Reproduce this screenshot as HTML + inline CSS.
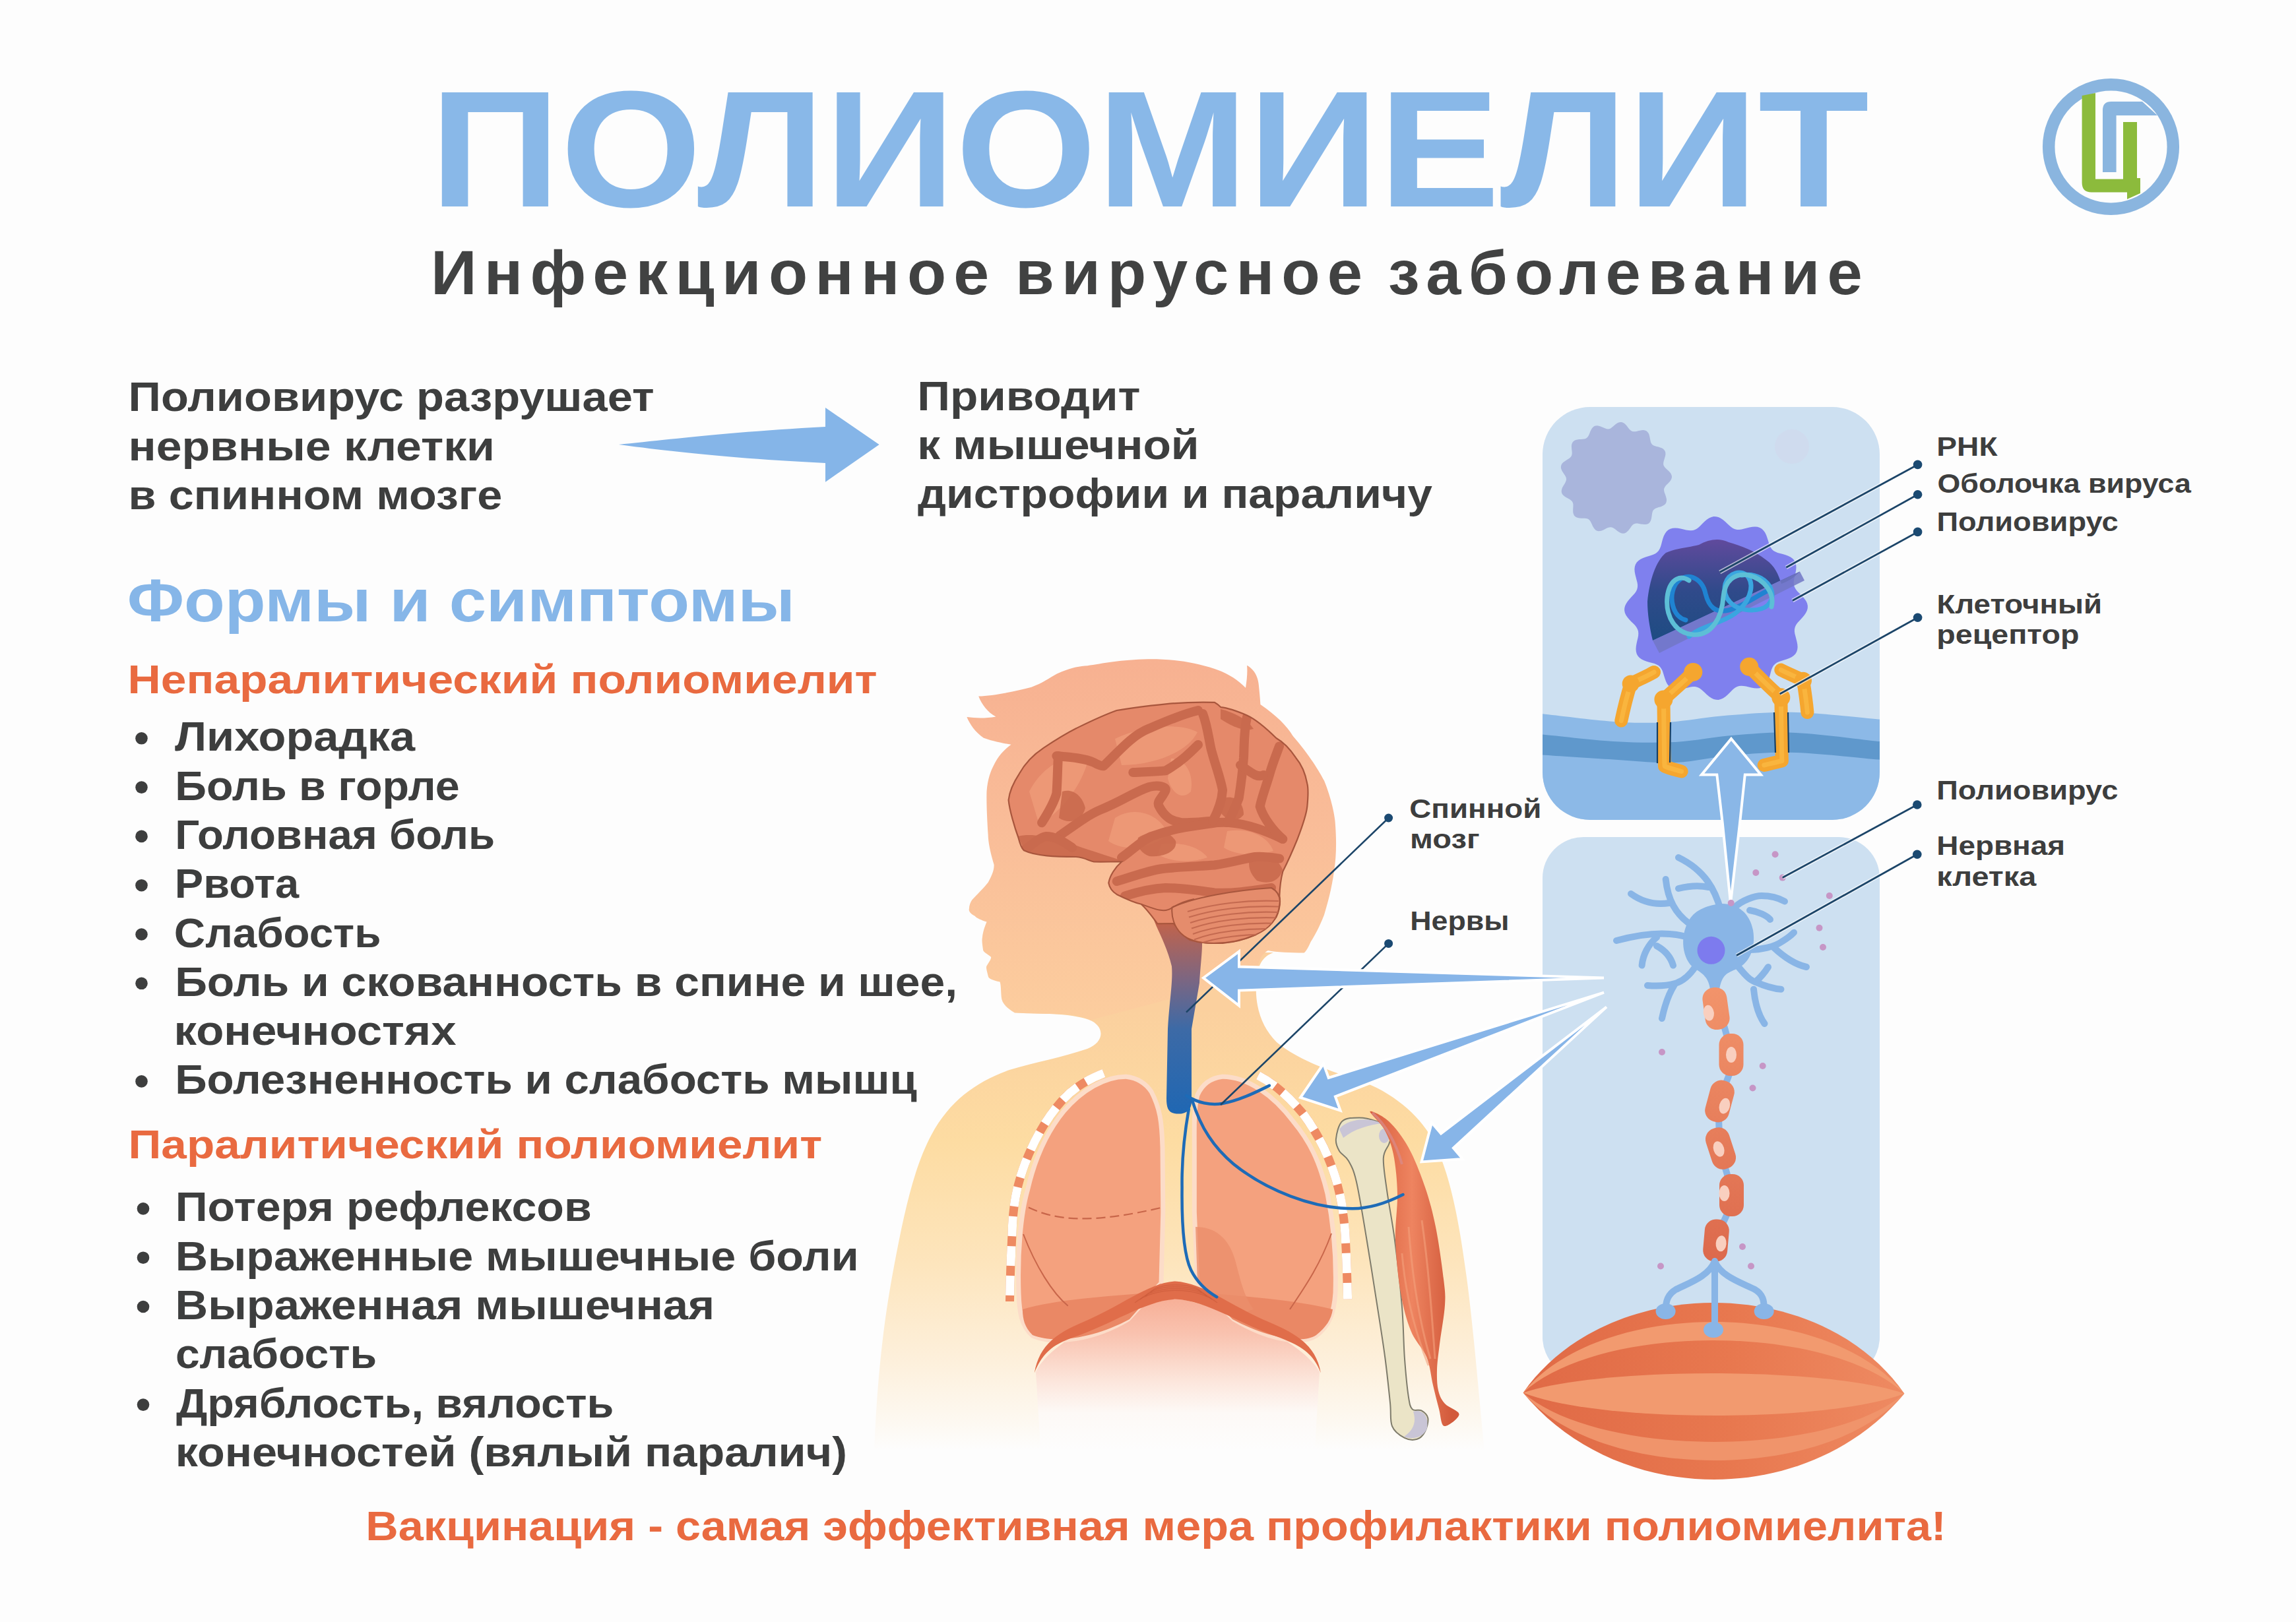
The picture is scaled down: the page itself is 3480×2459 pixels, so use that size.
<!DOCTYPE html>
<html><head><meta charset="utf-8"><title>Полиомиелит</title>
<style>html,body{margin:0;padding:0;background:#fdfdfd;width:3480px;height:2459px;overflow:hidden}
svg{display:block} text{font-family:"Liberation Sans",sans-serif;font-weight:bold}</style></head>
<body><svg width="3480" height="2459" viewBox="0 0 3480 2459">
<rect width="3480" height="2459" fill="#fdfdfd"/>
<defs>
<linearGradient id="gHead" x1="0" y1="1000" x2="0" y2="1540" gradientUnits="userSpaceOnUse">
 <stop offset="0" stop-color="#f7b191"/><stop offset="0.45" stop-color="#f9bc98"/><stop offset="1" stop-color="#fccd9e"/>
</linearGradient>
<linearGradient id="gBody" x1="0" y1="1530" x2="0" y2="2200" gradientUnits="userSpaceOnUse">
 <stop offset="0" stop-color="#fbd09e"/><stop offset="0.3" stop-color="#fddca2"/><stop offset="0.58" stop-color="#fde5bd"/><stop offset="0.8" stop-color="#fdf0dc"/><stop offset="0.94" stop-color="#fdf9f2"/><stop offset="1" stop-color="#fdfdfd"/>
</linearGradient>
<linearGradient id="gCord" x1="0" y1="1400" x2="0" y2="1690" gradientUnits="userSpaceOnUse">
 <stop offset="0" stop-color="#c0634c"/><stop offset="0.3" stop-color="#7a6683"/><stop offset="0.55" stop-color="#3d6aa6"/><stop offset="1" stop-color="#1f67b3"/>
</linearGradient>
<linearGradient id="gBelly" x1="0" y1="1965" x2="0" y2="2200" gradientUnits="userSpaceOnUse">
 <stop offset="0" stop-color="#f7ae95"/><stop offset="0.25" stop-color="#f9c3b0"/><stop offset="0.55" stop-color="#fce6dc"/><stop offset="0.75" stop-color="#fdf9f6"/><stop offset="1" stop-color="#fdfdfd"/>
</linearGradient>
<radialGradient id="gLung" cx="0.55" cy="0.45" r="0.6">
 <stop offset="0" stop-color="#f7ab88"/><stop offset="1" stop-color="#f29b78"/>
</radialGradient>
<linearGradient id="gVirusIn" x1="0" y1="820" x2="0" y2="975" gradientUnits="userSpaceOnUse">
 <stop offset="0" stop-color="#5f4a9c"/><stop offset="0.5" stop-color="#2f4a8a"/><stop offset="1" stop-color="#1d4c82"/>
</linearGradient>
<linearGradient id="gMuscleBig" x1="2309" y1="0" x2="2886" y2="0" gradientUnits="userSpaceOnUse">
 <stop offset="0" stop-color="#e56f4b"/><stop offset="0.5" stop-color="#ef8a62"/><stop offset="1" stop-color="#ec8860"/>
</linearGradient>
<linearGradient id="gMuscleDark" x1="2309" y1="0" x2="2886" y2="0" gradientUnits="userSpaceOnUse">
 <stop offset="0" stop-color="#e06a46"/><stop offset="0.55" stop-color="#e8784f"/><stop offset="1" stop-color="#ee8a62"/>
</linearGradient>
<linearGradient id="gMyelin" x1="0" y1="1495" x2="0" y2="1915" gradientUnits="userSpaceOnUse">
 <stop offset="0" stop-color="#f2946b"/><stop offset="1" stop-color="#dc694c"/>
</linearGradient>
<linearGradient id="gArm" x1="2080" y1="0" x2="2200" y2="0" gradientUnits="userSpaceOnUse">
 <stop offset="0" stop-color="#d9603f"/><stop offset="0.5" stop-color="#ee8460"/><stop offset="1" stop-color="#d25a3b"/>
</linearGradient>
</defs>
<path d="M937.8,674 C1000,668 1100,655 1251,647 L1251,618 L1332.6,674 L1251,730.7 L1251,702 C1100,695 1000,682 937.8,674Z" fill="#85b5e8"/>
<g id="logo">
<circle cx="3199.5" cy="222.5" r="94.3" fill="none" stroke="#8ab5df" stroke-width="18.5"/>
<path d="M3155.6,145 L3176,141 L3176,271.6 L3218,271.6 L3218,185 L3239,185 L3239,270 L3244,270 L3244,293 L3224,302 L3224,291.5 L3170,291.5 Q3155.6,291.5 3155.6,277 Z" fill="#8cbb3c"/>
<path d="M3187,261 L3207.6,261 L3207.6,175 L3270,175 L3247,154 L3200,154 Q3187,154 3187,167 Z" fill="#8ab5df"/>
</g>
<path d="M1537.7,1535.3 C1580,1537 1630,1536 1655,1548 C1674,1558 1674,1580 1648,1590 C1610,1603 1570,1610 1530,1622 C1480,1640 1440,1668 1412,1720 C1385,1770 1370,1840 1355,1920 C1340,2000 1330,2080 1325,2200 L2250,2200 C2240,2100 2232,2000 2222,1930 C2210,1840 2195,1770 2170,1725 C2150,1690 2110,1655 2060,1638 C2010,1622 1965,1605 1935,1580 C1910,1555 1900,1520 1905,1480 C1908,1460 1915,1450 1930,1444 L1546.7,1444 Z" fill="url(#gBody)"/>
<path d="M1465.4,1087.1 C1480,1089 1495,1089 1509.4,1086.4 C1497,1080 1488,1068 1483.2,1055.5 C1505,1055 1540,1048 1563.3,1041.7 C1580,1036 1590,1028 1601.9,1021.6 C1620,1013 1635,1010 1648.1,1009.3 C1670,1006 1700,1000 1740,999.3 C1780,999 1810,1004 1841,1014 C1860,1020 1875,1030 1888,1042.7 C1890,1030 1891,1018 1890,1008.8 C1900,1014 1907,1025 1908,1040 C1909,1050 1910,1060 1910.4,1068 C1935,1085 1950,1100 1959.6,1115.7 C1985,1145 2000,1170 2007,1183.5 C2018,1210 2024,1240 2024,1251.3 C2026,1280 2025,1300 2022.3,1319 C2018,1350 2012,1370 2007,1387 C2000,1405 1993,1418 1986.7,1427.7 C1983,1436 1980,1442 1976.5,1444.6 C1955,1444 1935,1444 1922,1441 C1912,1446 1905,1460 1905,1480 L1653,1546.4 C1640,1540 1630,1538 1617.6,1537.5 C1590,1537 1560,1537 1537.7,1535.3 C1525,1528 1518,1520 1517.7,1510.8 C1517,1500 1517,1492 1515.5,1488.6 C1505,1486 1498,1484 1497.7,1479.7 C1496,1472 1494,1467 1495.5,1464.2 C1498,1460 1502,1455 1502.2,1450.9 C1496,1446 1490,1443 1490,1439.8 C1489,1432 1488,1426 1488.8,1422 C1490,1410 1494,1402 1495.5,1397.6 C1488,1395 1480,1392 1477.7,1388.7 C1470,1385 1468,1381 1468.9,1377.6 C1469,1372 1471,1368 1473.3,1364.3 C1482,1355 1492,1345 1497.7,1337.7 C1502,1330 1507,1320 1506.6,1311 C1502,1295 1498,1280 1497.7,1266.6 C1496,1240 1495,1215 1495.5,1200 C1497,1180 1502,1168 1506.3,1160 C1512,1148 1520,1138 1532.5,1128.8 C1515,1126 1500,1122 1490.9,1118.7 C1478,1110 1470,1098 1465.4,1087.1 Z" fill="url(#gHead)"/>
<path d="M1570,2080 C1590,2035 1690,1985 1781,1968 C1870,1985 1975,2035 2000,2080 L1992,2210 L1578,2210 Z" fill="url(#gBelly)"/>
<path d="M1706.9,1632.2 C1722,1634 1735,1640 1745,1655 C1758,1680 1761,1700 1762,1740 L1762.8,1837.4 L1760,1945 L1710,2000 C1660,2030 1600,2040 1565,2025 C1548,2010 1545,1990 1544,1960 C1542,1900 1547,1840 1557.6,1803.5 C1570,1750 1590,1712 1612,1685 C1640,1652 1675,1632 1706.9,1632.2 Z" fill="#f4a17e" stroke="#fcdcc8" stroke-width="7"/>
<path d="M1852.7,1632.2 C1837,1634 1823,1642 1815,1660 C1810,1680 1810,1700 1810.3,1740 L1810.3,1837.4 L1815,1945 L1870,2000 C1920,2030 1970,2040 1995,2025 C2015,2010 2022,1990 2024,1960 C2026,1900 2020,1850 2012,1810 C2000,1760 1985,1730 1960,1700 C1930,1660 1890,1632 1852.7,1632.2 Z" fill="#f4a17e" stroke="#fcdcc8" stroke-width="7"/>
<path d="M1550,1985 C1600,1970 1680,1965 1740,1960 L1760,1945 L1712,2000 C1660,2028 1600,2038 1565,2024 C1553,2012 1550,2000 1550,1985Z" fill="#ea8865"/>
<path d="M2020,1985 C1960,1970 1880,1965 1830,1960 L1815,1945 L1868,2000 C1920,2028 1975,2038 1995,2024 C2010,2012 2018,2000 2020,1985Z" fill="#ea8865"/>
<path d="M1812,1860 C1840,1860 1862,1875 1872,1910 C1880,1940 1885,1965 1900,1985 L1870,1995 L1815,1945 Z" fill="#eb8f6b" opacity="0.8"/>
<path d="M1559,1830.6 C1600,1850 1652,1856 1761,1830.6" fill="none" stroke="#c8664a" stroke-width="2.2" stroke-dasharray="14 7"/>
<path d="M1551,1871 C1570,1920 1595,1960 1618.7,1979.8" fill="none" stroke="#c8664a" stroke-width="2"/>
<path d="M2018,1870 C2000,1920 1975,1955 1955,1985" fill="none" stroke="#c8664a" stroke-width="2"/>
<path d="M1673,1627 C1640,1640 1620,1655 1601.7,1678 C1580,1705 1565,1735 1554,1762.8 C1540,1800 1535,1830 1534,1871.3 C1532,1910 1531,1940 1530.5,1973" fill="none" stroke="#ee8a62" stroke-width="13"/>
<path d="M1673,1627 C1640,1640 1620,1655 1601.7,1678 C1580,1705 1565,1735 1554,1762.8 C1540,1800 1535,1830 1534,1871.3 C1532,1910 1531,1940 1530.5,1973" fill="none" stroke="#ffffff" stroke-width="13" stroke-dasharray="30 15"/>
<path d="M1907,1630.5 C1935,1645 1955,1665 1974.7,1688 C1995,1715 2010,1745 2018.8,1769.5 C2030,1800 2036,1830 2039,1871.3 C2041,1910 2042,1940 2042.6,1969.6" fill="none" stroke="#ee8a62" stroke-width="13"/>
<path d="M1907,1630.5 C1935,1645 1955,1665 1974.7,1688 C1995,1715 2010,1745 2018.8,1769.5 C2030,1800 2036,1830 2039,1871.3 C2041,1910 2042,1940 2042.6,1969.6" fill="none" stroke="#ffffff" stroke-width="13" stroke-dasharray="30 15"/>
<path d="M1567.8,2081.5 C1575,2040 1600,2022 1640,2005 C1700,1980 1740,1945 1781.5,1942.5 C1825,1945 1865,1980 1925,2005 C1965,2022 1995,2040 2001.9,2081.5 C1990,2050 1970,2040 1940,2028 C1880,2008 1830,1972 1781.5,1969.6 C1735,1972 1685,2008 1625,2028 C1598,2038 1580,2050 1567.8,2081.5 Z" fill="#e06d4a"/>
<path d="M1720,1975 C1750,1950 1815,1950 1845,1975" fill="none" stroke="#c85838" stroke-width="1.5" opacity="0.5"/>
<path d="M1728,1970 C1750,1948 1815,1948 1837,1970" fill="none" stroke="#c85838" stroke-width="1.5" opacity="0.5"/>
<path d="M1736,1965 C1750,1946 1815,1946 1829,1965" fill="none" stroke="#c85838" stroke-width="1.5" opacity="0.5"/>
<path d="M1744,1960 C1750,1944 1815,1944 1821,1960" fill="none" stroke="#c85838" stroke-width="1.5" opacity="0.5"/>
<path d="M1745,1385 L1822,1405 L1822,1431 C1822,1445 1820,1460 1818,1490 L1806,1560 L1806,1670 C1806,1688 1790,1690 1780,1688 C1770,1686 1768,1678 1768,1665 L1770,1560 C1772,1520 1778,1490 1776,1465 C1770,1440 1760,1420 1752.7,1404 Z" fill="url(#gCord)"/>
<clipPath id="cpBrain"><path d="M1528.6,1212.8 C1530,1228 1538,1255 1543.4,1269.5 C1546,1280 1548,1286 1552,1289.3 C1570,1298 1600,1299 1631,1299 C1645,1300 1650,1305 1658,1306.5 C1675,1307 1690,1306 1700,1306.5 C1690,1315 1682,1328 1680.3,1338.6 C1682,1348 1688,1353 1692.7,1355.9 C1705,1362 1718,1368 1729.7,1370.7 C1740,1380 1748,1392 1754.3,1400.3 L1779,1400 C1788,1412 1795,1420 1803.7,1425 C1820,1430 1835,1430 1853,1429.9 C1875,1428 1890,1423 1902.3,1417.5 C1918,1408 1928,1400 1934.4,1390.4 C1940,1378 1941,1368 1939.3,1358.3 C1940,1340 1942,1330 1944.3,1321.3 C1955,1300 1960,1288 1966.5,1272 C1975,1250 1980,1235 1981.3,1222.7 C1983,1205 1983,1195 1981.3,1188 C1978,1170 1972,1158 1964,1148.7 C1955,1135 1945,1125 1934.4,1119 C1915,1100 1902,1090 1890,1084.5 C1870,1076 1858,1073 1850.5,1072.2 C1846,1068 1843,1066 1840.7,1064.8 C1810,1064 1790,1065 1766.7,1067.3 C1740,1070 1715,1073 1692.7,1077 C1670,1085 1650,1095 1631,1104.3 C1610,1115 1595,1125 1581.7,1133.9 C1565,1145 1552,1160 1544.7,1173.3 C1535,1188 1530,1200 1528.6,1212.8 Z"/></clipPath>
<path d="M1528.6,1212.8 C1530,1228 1538,1255 1543.4,1269.5 C1546,1280 1548,1286 1552,1289.3 C1570,1298 1600,1299 1631,1299 C1645,1300 1650,1305 1658,1306.5 C1675,1307 1690,1306 1700,1306.5 C1690,1315 1682,1328 1680.3,1338.6 C1682,1348 1688,1353 1692.7,1355.9 C1705,1362 1718,1368 1729.7,1370.7 C1740,1380 1748,1392 1754.3,1400.3 L1779,1400 C1788,1412 1795,1420 1803.7,1425 C1820,1430 1835,1430 1853,1429.9 C1875,1428 1890,1423 1902.3,1417.5 C1918,1408 1928,1400 1934.4,1390.4 C1940,1378 1941,1368 1939.3,1358.3 C1940,1340 1942,1330 1944.3,1321.3 C1955,1300 1960,1288 1966.5,1272 C1975,1250 1980,1235 1981.3,1222.7 C1983,1205 1983,1195 1981.3,1188 C1978,1170 1972,1158 1964,1148.7 C1955,1135 1945,1125 1934.4,1119 C1915,1100 1902,1090 1890,1084.5 C1870,1076 1858,1073 1850.5,1072.2 C1846,1068 1843,1066 1840.7,1064.8 C1810,1064 1790,1065 1766.7,1067.3 C1740,1070 1715,1073 1692.7,1077 C1670,1085 1650,1095 1631,1104.3 C1610,1115 1595,1125 1581.7,1133.9 C1565,1145 1552,1160 1544.7,1173.3 C1535,1188 1530,1200 1528.6,1212.8 Z" fill="#e5896a"/>
<g clip-path="url(#cpBrain)">
<path d="M1560,1200 C1580,1160 1620,1140 1650,1150 C1640,1190 1610,1230 1575,1250 Z" fill="#ef9e7b" opacity="0.75"/>
<path d="M1690,1120 C1730,1100 1790,1095 1815,1110 C1800,1140 1750,1160 1700,1160 Z" fill="#ef9e7b" opacity="0.75"/>
<path d="M1690,1240 C1720,1220 1760,1235 1770,1265 C1740,1290 1700,1290 1680,1275 Z" fill="#ef9e7b" opacity="0.75"/>
<path d="M1775,1150 C1795,1150 1810,1170 1805,1200 C1790,1215 1775,1200 1770,1180 Z" fill="#ef9e7b" opacity="0.75"/>
<path d="M1860,1260 C1890,1255 1920,1265 1930,1290 C1900,1300 1870,1295 1855,1285 Z" fill="#ef9e7b" opacity="0.75"/>
<path d="M1760,1280 C1790,1275 1820,1285 1830,1300 C1800,1310 1770,1305 1755,1295 Z" fill="#ef9e7b" opacity="0.75"/>
<path d="M1543,1268 C1565,1262 1600,1270 1640,1285 C1665,1293 1685,1300 1705,1306 L1640,1312 L1560,1305 Z" fill="#c96a4e" opacity="0.9"/>
<path d="M1725,1270 C1745,1258 1770,1256 1782,1275 C1785,1290 1765,1300 1742,1298 C1728,1292 1722,1282 1725,1270 Z" fill="#c96a4e" opacity="0.9"/>
<path d="M1895,1300 C1915,1292 1935,1298 1944,1318 C1940,1335 1925,1342 1905,1335 C1895,1325 1890,1312 1895,1300 Z" fill="#c96a4e" opacity="0.9"/>
<path d="M1850,1075 C1870,1080 1890,1090 1900,1105 C1885,1110 1865,1100 1850,1090 Z" fill="#c96a4e" opacity="0.9"/>
<path d="M1610,1200 C1625,1195 1640,1205 1645,1225 C1640,1245 1620,1250 1605,1240 Z" fill="#c96a4e" opacity="0.9"/>
<path d="M1855,1210 C1870,1205 1885,1215 1885,1235 C1875,1248 1860,1245 1850,1232 Z" fill="#c96a4e" opacity="0.9"/>
<path d="M1606,1267 C1630,1250 1650,1235 1668,1227.6 C1700,1215 1720,1200 1742,1193 C1755,1190 1768,1192 1766.7,1198 C1762,1210 1752,1215 1757,1222.7 C1765,1238 1775,1245 1790,1247 C1805,1248 1820,1246 1833,1245" fill="none" stroke="#c96a4e" stroke-width="14" stroke-linecap="round" stroke-linejoin="round"/>
<path d="M1700,1300 C1715,1290 1729,1275 1745,1268 C1780,1255 1810,1252 1845,1247 C1870,1245 1900,1250 1944,1272" fill="none" stroke="#c96a4e" stroke-width="14" stroke-linecap="round" stroke-linejoin="round"/>
<path d="M1823,1082 C1830,1100 1832,1120 1835.7,1136 C1842,1160 1850,1180 1853,1198 C1852,1215 1845,1232 1838,1245" fill="none" stroke="#c96a4e" stroke-width="14" stroke-linecap="round" stroke-linejoin="round"/>
<path d="M1890,1087 C1885,1110 1886,1130 1885,1148.7 C1883,1175 1880,1195 1877.7,1210 C1872,1225 1866,1238 1860.4,1247" fill="none" stroke="#c96a4e" stroke-width="14" stroke-linecap="round" stroke-linejoin="round"/>
<path d="M1939,1131.4 C1932,1150 1928,1160 1924.5,1173 C1918,1195 1912,1210 1909.7,1222.7 C1915,1240 1930,1260 1944.3,1272" fill="none" stroke="#c96a4e" stroke-width="14" stroke-linecap="round" stroke-linejoin="round"/>
<path d="M1601.4,1146 C1625,1148 1645,1150 1658,1156 C1665,1160 1670,1162 1673,1161 C1695,1140 1715,1115 1742,1104.3 C1770,1092 1795,1082 1816,1077" fill="none" stroke="#c96a4e" stroke-width="14" stroke-linecap="round" stroke-linejoin="round"/>
<path d="M1579,1247.3 C1590,1230 1598,1215 1601.4,1203 C1603,1180 1603,1160 1604,1146" fill="none" stroke="#c96a4e" stroke-width="14" stroke-linecap="round" stroke-linejoin="round"/>
<path d="M1717.3,1171 C1735,1170 1750,1170 1766.7,1168.4 C1790,1155 1805,1140 1816,1129" fill="none" stroke="#c96a4e" stroke-width="14" stroke-linecap="round" stroke-linejoin="round"/>
<path d="M1692.7,1336 C1720,1328 1745,1318 1766.7,1316.4 C1795,1314 1820,1313 1840.7,1311.5 C1865,1308 1885,1302 1902.3,1299 C1915,1298 1928,1300 1939.3,1301.6" fill="none" stroke="#c96a4e" stroke-width="14" stroke-linecap="round" stroke-linejoin="round"/>
<path d="M1705,1358.4 C1725,1352 1745,1347 1766.7,1346 C1795,1346 1815,1350 1840.7,1353.4 C1870,1355 1900,1350 1927,1346" fill="none" stroke="#c96a4e" stroke-width="14" stroke-linecap="round" stroke-linejoin="round"/>
<path d="M1552,1289.3 C1565,1280 1575,1270 1585,1268 C1600,1268 1610,1275 1625,1285" fill="none" stroke="#c96a4e" stroke-width="14" stroke-linecap="round" stroke-linejoin="round"/>
<path d="M1880,1160 C1895,1170 1905,1180 1915,1175" fill="none" stroke="#c96a4e" stroke-width="14" stroke-linecap="round" stroke-linejoin="round"/>
</g>
<path d="M1528.6,1212.8 C1530,1228 1538,1255 1543.4,1269.5 C1546,1280 1548,1286 1552,1289.3 C1570,1298 1600,1299 1631,1299 C1645,1300 1650,1305 1658,1306.5 C1675,1307 1690,1306 1700,1306.5 C1690,1315 1682,1328 1680.3,1338.6 C1682,1348 1688,1353 1692.7,1355.9 C1705,1362 1718,1368 1729.7,1370.7 C1740,1380 1748,1392 1754.3,1400.3 L1779,1400 C1788,1412 1795,1420 1803.7,1425 C1820,1430 1835,1430 1853,1429.9 C1875,1428 1890,1423 1902.3,1417.5 C1918,1408 1928,1400 1934.4,1390.4 C1940,1378 1941,1368 1939.3,1358.3 C1940,1340 1942,1330 1944.3,1321.3 C1955,1300 1960,1288 1966.5,1272 C1975,1250 1980,1235 1981.3,1222.7 C1983,1205 1983,1195 1981.3,1188 C1978,1170 1972,1158 1964,1148.7 C1955,1135 1945,1125 1934.4,1119 C1915,1100 1902,1090 1890,1084.5 C1870,1076 1858,1073 1850.5,1072.2 C1846,1068 1843,1066 1840.7,1064.8 C1810,1064 1790,1065 1766.7,1067.3 C1740,1070 1715,1073 1692.7,1077 C1670,1085 1650,1095 1631,1104.3 C1610,1115 1595,1125 1581.7,1133.9 C1565,1145 1552,1160 1544.7,1173.3 C1535,1188 1530,1200 1528.6,1212.8 Z" fill="none" stroke="#a8563d" stroke-width="2.2"/>
<path d="M1776.5,1375.6 C1810,1360 1870,1350 1927,1346 C1938,1352 1941,1362 1939.3,1372 C1937,1392 1925,1408 1902.3,1417.5 C1880,1427 1860,1430 1840,1430 C1815,1430 1800,1425 1790,1415 C1780,1405 1775,1390 1776.5,1375.6 Z" fill="#e58c6c" stroke="#a8563d" stroke-width="2"/>
<clipPath id="cpCer"><path d="M1776.5,1375.6 C1810,1360 1870,1350 1927,1346 C1938,1352 1941,1362 1939.3,1372 C1937,1392 1925,1408 1902.3,1417.5 C1880,1427 1860,1430 1840,1430 C1815,1430 1800,1425 1790,1415 C1780,1405 1775,1390 1776.5,1375.6 Z"/></clipPath><g clip-path="url(#cpCer)">
<path d="M1800,1382.0 C1840,1370.0 1890,1364.0 1938,1366.0" fill="none" stroke="#c46a50" stroke-width="2.2"/>
<path d="M1802,1390.5 C1840,1378.5 1890,1372.5 1938,1374.5" fill="none" stroke="#c46a50" stroke-width="2.2"/>
<path d="M1804,1399.0 C1840,1387.0 1890,1381.0 1938,1383.0" fill="none" stroke="#c46a50" stroke-width="2.2"/>
<path d="M1806,1407.5 C1840,1395.5 1890,1389.5 1938,1391.5" fill="none" stroke="#c46a50" stroke-width="2.2"/>
<path d="M1808,1416.0 C1840,1404.0 1890,1398.0 1938,1400.0" fill="none" stroke="#c46a50" stroke-width="2.2"/>
<path d="M1810,1424.5 C1840,1412.5 1890,1406.5 1938,1408.5" fill="none" stroke="#c46a50" stroke-width="2.2"/>
<path d="M1812,1433.0 C1840,1421.0 1890,1415.0 1938,1417.0" fill="none" stroke="#c46a50" stroke-width="2.2"/>
</g>
<path d="M1729.7,1370.7 C1750,1378 1765,1385 1776.5,1376 C1790,1368 1800,1365 1810,1363" fill="none" stroke="#a8563d" stroke-width="2"/>
<path d="M2024.9,1727.0 C2025.6,1719.5 2028.5,1705.2 2034.4,1699.8 C2040.3,1694.4 2051.6,1694.4 2060.2,1694.4 C2068.8,1694.4 2078.5,1697.1 2086.0,1699.8 C2093.5,1702.5 2101.4,1706.6 2105.0,1710.7 C2108.6,1714.8 2107.7,1720.2 2107.7,1724.3 C2107.7,1728.3 2106.8,1729.7 2105.0,1735.0 C2103.2,1740.3 2097.3,1744.2 2096.8,1756.0 C2096.3,1767.8 2099.3,1784.9 2102.2,1805.6 C2105.1,1826.3 2110.2,1851.2 2114.0,1880.0 C2117.8,1908.8 2122.3,1949.0 2124.8,1978.6 C2127.3,2008.2 2127.2,2034.5 2128.8,2057.5 C2130.5,2080.5 2132.7,2103.5 2134.7,2116.7 C2136.7,2129.8 2137.3,2132.8 2140.6,2136.4 C2143.9,2140.0 2150.4,2136.1 2154.4,2138.4 C2158.4,2140.7 2163.4,2144.7 2164.3,2150.0 C2165.2,2155.3 2162.7,2164.7 2160.0,2170.0 C2157.3,2175.3 2153.2,2180.2 2148.0,2181.8 C2142.8,2183.4 2135.1,2183.1 2128.8,2179.8 C2122.5,2176.5 2113.6,2170.9 2110.0,2162.0 C2106.4,2153.1 2108.8,2143.9 2107.0,2126.5 C2105.2,2109.1 2102.5,2082.2 2099.2,2057.5 C2095.9,2032.8 2091.9,2008.2 2087.3,1978.6 C2082.7,1949.0 2076.8,1911.1 2071.6,1880.0 C2066.4,1848.9 2060.6,1812.0 2056.0,1792.0 C2051.4,1772.0 2048.3,1767.8 2044.0,1760.0 C2039.7,1752.2 2033.2,1750.5 2030.0,1745.0 C2026.8,1739.5 2024.2,1734.5 2024.9,1727.0Z" fill="#ebe4c7" stroke="#7e7b6b" stroke-width="2"/>
<path d="M2030,1712 C2040,1698 2070,1692 2095,1703 C2075,1705 2052,1712 2036,1725 Z" fill="#c9c5d6"/>
<ellipse cx="2098" cy="1722" rx="8" ry="11" fill="#c9c5d6"/>
<path d="M2142,2140 C2155,2136 2166,2145 2163,2165 C2158,2180 2140,2183 2128,2178 C2140,2170 2148,2158 2142,2140Z" fill="#c9c5d6"/>
<path d="M2076.5,1685.0 C2077.7,1683.0 2095.2,1690.8 2105.0,1700.0 C2114.8,1709.2 2125.8,1723.3 2135.0,1740.0 C2144.2,1756.7 2153.2,1780.0 2160.0,1800.0 C2166.8,1820.0 2171.3,1836.8 2176.0,1860.0 C2180.7,1883.2 2185.7,1919.2 2188.0,1939.0 C2190.3,1958.8 2191.0,1962.1 2190.0,1978.6 C2189.0,1995.1 2184.0,2021.4 2182.0,2037.8 C2180.0,2054.2 2178.3,2065.3 2178.0,2077.0 C2177.7,2088.7 2178.0,2099.5 2180.0,2108.0 C2182.0,2116.5 2184.7,2121.9 2190.0,2128.0 C2195.3,2134.1 2211.8,2138.6 2211.6,2144.3 C2211.4,2150.0 2194.1,2163.4 2189.0,2162.0 C2183.9,2160.6 2183.8,2146.3 2181.0,2136.0 C2178.2,2125.7 2175.1,2113.1 2172.0,2100.0 C2168.9,2086.9 2167.9,2071.2 2162.3,2057.5 C2156.7,2043.8 2145.2,2034.4 2138.6,2018.0 C2132.0,2001.6 2126.7,1981.9 2122.8,1958.9 C2118.9,1935.9 2115.8,1904.8 2115.0,1880.0 C2114.2,1855.2 2118.5,1831.7 2118.0,1810.0 C2117.5,1788.3 2115.3,1766.3 2112.0,1750.0 C2108.7,1733.7 2103.9,1722.8 2098.0,1712.0 C2092.1,1701.2 2075.3,1687.0 2076.5,1685.0Z" fill="url(#gArm)"/>
<path d="M2135,1860 C2140,1930 2150,2000 2168,2060" fill="none" stroke="#f3a07c" stroke-width="3" opacity="0.6"/>
<path d="M2155,1850 C2165,1920 2170,1990 2175,2060" fill="none" stroke="#f3a07c" stroke-width="3" opacity="0.6"/>
<path d="M2125,1900 C2130,1960 2145,2020 2165,2070" fill="none" stroke="#f3a07c" stroke-width="3" opacity="0.6"/>
<path d="M2080,1687 C2100,1705 2115,1730 2125,1765" fill="none" stroke="#d98c8c" stroke-width="4" opacity="0.7"/>
<path d="M1798.4,1661 C1815,1672 1835,1676 1852.7,1673 C1880,1668 1905,1655 1923.9,1645.8" fill="none" stroke="#1d6bb7" stroke-width="4.5" stroke-linecap="round"/>
<path d="M1806.9,1667.8 C1820,1710 1840,1740 1870,1765 C1920,1805 1990,1832 2050,1832.3 C2080,1832 2105,1822 2126.5,1811" fill="none" stroke="#1d6bb7" stroke-width="4.5" stroke-linecap="round"/>
<path d="M1801.8,1681.4 C1795,1720 1791,1760 1791.6,1800 C1791,1850 1793,1900 1805.2,1925.5 C1815,1945 1830,1958 1844.2,1966.2" fill="none" stroke="#1d6bb7" stroke-width="4.5" stroke-linecap="round"/>
<line x1="2104.6" y1="1240" x2="1798" y2="1534.6" stroke="#1c4568" stroke-width="2.6"/><circle cx="2104.6" cy="1240" r="6.5" fill="#1b4a72"/>
<line x1="2104.6" y1="1430.4" x2="1850" y2="1675" stroke="#1c4568" stroke-width="2.6"/><circle cx="2104.6" cy="1430.4" r="6.5" fill="#1b4a72"/>
<rect x="2338" y="1269" width="511" height="820" rx="62" fill="#cde0f1"/>
<rect x="2338" y="617" width="511" height="626" rx="72" fill="#cde0f1"/>
<clipPath id="cpTop"><rect x="2338" y="617" width="511" height="626" rx="72"/></clipPath>
<g clip-path="url(#cpTop)">
<path d="M2330.0,1082.0 C2331.3,1082.0 2318.8,1080.3 2338.0,1082.3 C2357.2,1084.3 2414.1,1091.8 2445.4,1093.9 C2476.7,1096.0 2497.2,1096.5 2526.0,1095.0 C2554.8,1093.5 2585.8,1087.1 2618.5,1084.6 C2651.2,1082.1 2684.3,1079.0 2722.4,1080.0 C2760.5,1081.0 2824.1,1088.6 2847.0,1090.4 C2869.9,1092.2 2857.8,1090.9 2860.0,1091.0 L2860,1250 L2330,1250 Z" fill="#8cb9e7"/>
<path d="M2330.0,1113.0 C2331.3,1113.1 2318.8,1111.7 2338.0,1113.5 C2357.2,1115.3 2412.1,1122.0 2445.4,1123.9 C2478.7,1125.8 2507.0,1126.5 2537.8,1125.0 C2568.6,1123.5 2599.3,1116.9 2630.0,1114.6 C2660.7,1112.3 2685.8,1109.5 2722.0,1111.0 C2758.2,1112.5 2824.0,1121.7 2847.0,1123.9 C2870.0,1126.1 2857.8,1124.0 2860.0,1124.0 L2860,1152 " fill="none"/>
<path d="M2330.0,1113.0 C2331.3,1113.1 2318.8,1111.7 2338.0,1113.5 C2357.2,1115.3 2412.1,1122.0 2445.4,1123.9 C2478.7,1125.8 2507.0,1126.5 2537.8,1125.0 C2568.6,1123.5 2599.3,1116.9 2630.0,1114.6 C2660.7,1112.3 2685.8,1109.5 2722.0,1111.0 C2758.2,1112.5 2824.0,1121.7 2847.0,1123.9 C2870.0,1126.1 2857.8,1124.0 2860.0,1124.0 L2860,1152  C2857.8,1151.9 2870.0,1153.4 2847.0,1151.6 C2824.0,1149.8 2758.2,1142.2 2722.0,1141.0 C2685.8,1139.8 2660.7,1142.1 2630.0,1144.6 C2599.3,1147.1 2568.6,1155.0 2537.8,1156.2 C2507.0,1157.4 2478.7,1153.5 2445.4,1151.6 C2412.1,1149.7 2357.2,1145.9 2338.0,1144.6 C2318.8,1143.3 2331.3,1144.1 2330.0,1144.0 Z" fill="#5f98cc"/>
</g>
<path d="M2533.8,724.6 L2533.0,726.8 L2531.7,728.9 L2530.0,731.0 L2528.1,732.9 L2526.2,734.8 L2524.6,736.6 L2523.3,738.4 L2522.4,740.2 L2522.0,742.1 L2522.2,744.2 L2522.7,746.4 L2523.6,748.8 L2524.5,751.3 L2525.3,753.9 L2525.9,756.4 L2526.0,758.9 L2525.6,761.2 L2524.7,763.2 L2523.2,764.9 L2521.2,766.3 L2518.9,767.4 L2516.4,768.4 L2513.8,769.1 L2511.4,769.9 L2509.2,770.8 L2507.4,771.9 L2506.0,773.3 L2505.0,775.1 L2504.4,777.1 L2503.9,779.5 L2503.6,782.1 L2503.2,784.8 L2502.6,787.4 L2501.8,789.8 L2500.6,791.8 L2499.0,793.4 L2497.0,794.4 L2494.7,795.0 L2492.2,795.1 L2489.6,794.8 L2486.9,794.4 L2484.3,793.9 L2481.9,793.6 L2479.7,793.5 L2477.7,793.9 L2475.9,794.8 L2474.3,796.1 L2472.8,797.8 L2471.3,799.9 L2469.8,802.1 L2468.1,804.2 L2466.3,806.1 L2464.4,807.5 L2462.3,808.5 L2460.1,808.8 L2457.8,808.5 L2455.5,807.6 L2453.3,806.3 L2451.1,804.8 L2449.0,803.1 L2447.0,801.6 L2445.0,800.3 L2443.1,799.5 L2441.2,799.2 L2439.2,799.4 L2437.0,800.1 L2434.8,801.1 L2432.5,802.3 L2430.1,803.5 L2427.6,804.4 L2425.2,805.1 L2422.8,805.2 L2420.6,804.7 L2418.6,803.7 L2416.9,802.1 L2415.4,800.0 L2414.1,797.7 L2413.0,795.2 L2411.9,792.9 L2410.8,790.7 L2409.6,788.9 L2408.1,787.5 L2406.4,786.6 L2404.4,786.0 L2402.1,785.8 L2399.5,785.7 L2396.8,785.7 L2394.2,785.5 L2391.6,785.1 L2389.3,784.3 L2387.4,783.1 L2385.9,781.4 L2384.9,779.3 L2384.3,777.0 L2384.2,774.4 L2384.2,771.7 L2384.4,769.0 L2384.5,766.5 L2384.4,764.2 L2383.9,762.2 L2383.1,760.4 L2381.7,758.9 L2379.9,757.5 L2377.8,756.3 L2375.5,755.0 L2373.2,753.7 L2371.0,752.2 L2369.1,750.6 L2367.7,748.7 L2366.9,746.6 L2366.7,744.4 L2367.1,742.0 L2367.9,739.6 L2369.1,737.2 L2370.5,734.9 L2371.9,732.7 L2373.0,730.6 L2373.7,728.5 L2374.0,726.6 L2373.8,724.6 L2373.0,722.6 L2371.9,720.6 L2370.5,718.4 L2369.0,716.2 L2367.6,713.9 L2366.5,711.5 L2365.9,709.2 L2365.9,706.9 L2366.5,704.8 L2367.6,702.8 L2369.3,701.0 L2371.4,699.4 L2373.6,697.9 L2375.9,696.5 L2378.0,695.2 L2379.8,693.8 L2381.2,692.3 L2382.1,690.5 L2382.6,688.5 L2382.7,686.3 L2382.5,683.8 L2382.2,681.2 L2382.0,678.5 L2381.9,675.9 L2382.3,673.4 L2383.1,671.2 L2384.4,669.4 L2386.1,668.0 L2388.3,667.0 L2390.8,666.4 L2393.4,666.0 L2396.1,665.9 L2398.7,665.7 L2401.1,665.4 L2403.2,664.9 L2404.9,663.9 L2406.4,662.6 L2407.6,660.8 L2408.6,658.7 L2409.6,656.3 L2410.5,653.8 L2411.7,651.4 L2413.0,649.2 L2414.6,647.4 L2416.5,646.1 L2418.6,645.4 L2420.9,645.3 L2423.4,645.7 L2425.9,646.5 L2428.3,647.5 L2430.8,648.6 L2433.1,649.6 L2435.2,650.2 L2437.3,650.5 L2439.2,650.2 L2441.1,649.4 L2443.0,648.1 L2444.9,646.6 L2446.9,644.8 L2449.0,643.1 L2451.2,641.6 L2453.4,640.6 L2455.7,640.0 L2457.9,640.1 L2460.0,640.8 L2462.1,642.0 L2464.0,643.8 L2465.8,645.8 L2467.4,647.9 L2469.0,649.9 L2470.6,651.7 L2472.3,653.0 L2474.0,653.9 L2476.0,654.3 L2478.1,654.2 L2480.5,653.9 L2483.0,653.3 L2485.6,652.7 L2488.3,652.3 L2490.8,652.1 L2493.2,652.5 L2495.3,653.3 L2497.0,654.7 L2498.4,656.6 L2499.5,658.8 L2500.2,661.4 L2500.7,664.0 L2501.2,666.6 L2501.7,669.0 L2502.4,671.2 L2503.4,672.9 L2504.8,674.4 L2506.6,675.4 L2508.7,676.3 L2511.1,677.0 L2513.7,677.6 L2516.3,678.4 L2518.7,679.3 L2520.8,680.6 L2522.5,682.2 L2523.7,684.1 L2524.3,686.2 L2524.4,688.7 L2524.0,691.2 L2523.3,693.8 L2522.5,696.4 L2521.8,698.8 L2521.3,701.1 L2521.1,703.2 L2521.4,705.2 L2522.3,707.0 L2523.6,708.7 L2525.3,710.5 L2527.2,712.2 L2529.1,714.0 L2531.0,716.0 L2532.5,718.0 L2533.5,720.2 L2534.0,722.4Z" fill="#a9b5dc"/>
<circle cx="2716" cy="677" r="26" fill="#d3d5ea" opacity="0.45"/>
<path d="M2507,1018.9 C2495,1026 2480,1032 2471.7,1036.5 C2466,1055 2461,1075 2457.3,1092.6" fill="none" stroke="#f5a62f" stroke-width="20" stroke-linecap="round" stroke-linejoin="round"/>
<path d="M2507,1018.9 C2495,1026 2480,1032 2471.7,1036.5 C2466,1055 2461,1075 2457.3,1092.6" fill="none" stroke="#fbc04a" stroke-width="7" stroke-linecap="round" stroke-linejoin="round" opacity="0.6"/>
<path d="M2699.3,1015.6 C2712,1022 2725,1027 2733,1031.7 C2736,1050 2738,1065 2739.4,1080" fill="none" stroke="#f5a62f" stroke-width="20" stroke-linecap="round" stroke-linejoin="round"/>
<path d="M2699.3,1015.6 C2712,1022 2725,1027 2733,1031.7 C2736,1050 2738,1065 2739.4,1080" fill="none" stroke="#fbc04a" stroke-width="7" stroke-linecap="round" stroke-linejoin="round" opacity="0.6"/>
<circle cx="2471.7" cy="1036.5" r="13" fill="#f5a62f"/>
<circle cx="2733" cy="1031.7" r="13" fill="#f5a62f"/>
<path d="M2739.8,922.0 L2738.9,925.6 L2737.2,929.1 L2734.9,932.5 L2732.2,935.8 L2729.3,938.9 L2726.5,941.9 L2724.0,944.8 L2722.0,947.7 L2720.7,950.7 L2720.0,953.9 L2719.9,957.2 L2720.4,960.8 L2721.4,964.6 L2722.4,968.6 L2723.5,972.7 L2724.3,976.9 L2724.6,980.9 L2724.2,984.8 L2723.1,988.3 L2721.2,991.4 L2718.6,994.1 L2715.4,996.3 L2711.7,998.1 L2707.7,999.5 L2703.7,1000.8 L2699.7,1002.0 L2696.1,1003.2 L2692.9,1004.8 L2690.3,1006.7 L2688.1,1009.1 L2686.4,1012.0 L2685.0,1015.3 L2683.9,1019.1 L2682.9,1023.1 L2681.7,1027.2 L2680.3,1031.2 L2678.5,1034.8 L2676.3,1038.0 L2673.6,1040.5 L2670.4,1042.2 L2666.8,1043.2 L2662.9,1043.5 L2658.8,1043.2 L2654.7,1042.5 L2650.5,1041.6 L2646.5,1040.6 L2642.8,1039.9 L2639.2,1039.7 L2635.9,1040.0 L2632.9,1041.0 L2630.0,1042.6 L2627.1,1044.8 L2624.3,1047.5 L2621.4,1050.5 L2618.3,1053.5 L2615.1,1056.2 L2611.7,1058.5 L2608.2,1060.1 L2604.6,1060.9 L2601.0,1060.8 L2597.4,1059.9 L2593.9,1058.2 L2590.5,1055.9 L2587.2,1053.2 L2584.1,1050.3 L2581.1,1047.5 L2578.2,1045.0 L2575.3,1043.0 L2572.3,1041.7 L2569.1,1041.0 L2565.8,1040.9 L2562.2,1041.4 L2558.4,1042.4 L2554.4,1043.4 L2550.3,1044.5 L2546.1,1045.3 L2542.1,1045.6 L2538.2,1045.2 L2534.7,1044.1 L2531.6,1042.2 L2528.9,1039.6 L2526.7,1036.4 L2524.9,1032.7 L2523.5,1028.7 L2522.2,1024.7 L2521.0,1020.7 L2519.8,1017.1 L2518.2,1013.9 L2516.3,1011.3 L2513.9,1009.1 L2511.0,1007.4 L2507.7,1006.0 L2503.9,1004.9 L2499.9,1003.9 L2495.8,1002.7 L2491.8,1001.3 L2488.2,999.5 L2485.0,997.3 L2482.5,994.6 L2480.8,991.4 L2479.8,987.8 L2479.5,983.9 L2479.8,979.8 L2480.5,975.7 L2481.4,971.5 L2482.4,967.5 L2483.1,963.8 L2483.3,960.2 L2483.0,956.9 L2482.0,953.9 L2480.4,951.0 L2478.2,948.1 L2475.5,945.3 L2472.5,942.4 L2469.5,939.3 L2466.8,936.1 L2464.5,932.7 L2462.9,929.2 L2462.1,925.6 L2462.2,922.0 L2463.1,918.4 L2464.8,914.9 L2467.1,911.5 L2469.8,908.2 L2472.7,905.1 L2475.5,902.1 L2478.0,899.2 L2480.0,896.3 L2481.3,893.3 L2482.0,890.1 L2482.1,886.8 L2481.6,883.2 L2480.6,879.4 L2479.6,875.4 L2478.5,871.3 L2477.7,867.1 L2477.4,863.1 L2477.8,859.2 L2478.9,855.7 L2480.8,852.6 L2483.4,849.9 L2486.6,847.7 L2490.3,845.9 L2494.3,844.5 L2498.3,843.2 L2502.3,842.0 L2505.9,840.8 L2509.1,839.2 L2511.7,837.3 L2513.9,834.9 L2515.6,832.0 L2517.0,828.7 L2518.1,824.9 L2519.1,820.9 L2520.3,816.8 L2521.7,812.8 L2523.5,809.2 L2525.7,806.0 L2528.4,803.5 L2531.6,801.8 L2535.2,800.8 L2539.1,800.5 L2543.2,800.8 L2547.3,801.5 L2551.5,802.4 L2555.5,803.4 L2559.2,804.1 L2562.8,804.3 L2566.1,804.0 L2569.1,803.0 L2572.0,801.4 L2574.9,799.2 L2577.7,796.5 L2580.6,793.5 L2583.7,790.5 L2586.9,787.8 L2590.3,785.5 L2593.8,783.9 L2597.4,783.1 L2601.0,783.2 L2604.6,784.1 L2608.1,785.8 L2611.5,788.1 L2614.8,790.8 L2617.9,793.7 L2620.9,796.5 L2623.8,799.0 L2626.7,801.0 L2629.7,802.3 L2632.9,803.0 L2636.2,803.1 L2639.8,802.6 L2643.6,801.6 L2647.6,800.6 L2651.7,799.5 L2655.9,798.7 L2659.9,798.4 L2663.8,798.8 L2667.3,799.9 L2670.4,801.8 L2673.1,804.4 L2675.3,807.6 L2677.1,811.3 L2678.5,815.3 L2679.8,819.3 L2681.0,823.3 L2682.2,826.9 L2683.8,830.1 L2685.7,832.7 L2688.1,834.9 L2691.0,836.6 L2694.3,838.0 L2698.1,839.1 L2702.1,840.1 L2706.2,841.3 L2710.2,842.7 L2713.8,844.5 L2717.0,846.7 L2719.5,849.4 L2721.2,852.6 L2722.2,856.2 L2722.5,860.1 L2722.2,864.2 L2721.5,868.3 L2720.6,872.5 L2719.6,876.5 L2718.9,880.2 L2718.7,883.8 L2719.0,887.1 L2720.0,890.1 L2721.6,893.0 L2723.8,895.9 L2726.5,898.7 L2729.5,901.6 L2732.5,904.7 L2735.2,907.9 L2737.5,911.3 L2739.1,914.8 L2739.9,918.4Z" fill="#7f80ee"/>
<path d="M2497,912 C2500,880 2510,850 2525,838 C2545,830 2560,830 2575,826 C2590,818 2605,815 2620,822 C2640,828 2660,835 2676.7,848.8 C2690,858 2695,870 2700,885 C2715,880 2722,872 2728,866.5 L2505,971 C2500,950 2497,930 2497,912 Z" fill="url(#gVirusIn)"/>
<path d="M2505,971 L2728,866.5 L2735,880 L2515,990 Z" fill="#7177c6" opacity="0.85"/>
<path d="M2555,940 C2535,935 2528,905 2540,885 C2555,865 2580,875 2585,900 C2590,920 2600,930 2620,925 C2640,920 2660,905 2680,895" fill="none" stroke="#1f83d2" stroke-width="7" stroke-linecap="round"/>
<path d="M2560,965 C2580,948 2610,945 2630,930 C2650,915 2660,890 2650,875 C2640,862 2620,868 2615,885 C2610,905 2625,925 2655,925 C2675,925 2690,915 2685,895 C2680,880 2662,868 2640,872" fill="none" stroke="#3aa6e0" stroke-width="7" stroke-linecap="round"/>
<path d="M2560,880 C2545,870 2530,880 2527,905 C2524,935 2540,960 2565,962 C2595,965 2610,935 2612,905 C2614,880 2630,868 2650,872 C2675,878 2690,900 2685,920" fill="none" stroke="#5dbfd6" stroke-width="7" stroke-linecap="round"/>
<path d="M2566.3,1018.9 C2550,1035 2535,1048 2521.4,1060.5 C2522,1090 2522,1130 2523,1161.5 C2530,1165 2540,1167 2548.6,1169.5" fill="none" stroke="#f5a62f" stroke-width="20" stroke-linecap="round" stroke-linejoin="round"/>
<path d="M2566.3,1018.9 C2550,1035 2535,1048 2521.4,1060.5 C2522,1090 2522,1130 2523,1161.5 C2530,1165 2540,1167 2548.6,1169.5" fill="none" stroke="#fbc04a" stroke-width="7" stroke-linecap="round" stroke-linejoin="round" opacity="0.6"/>
<path d="M2651.2,1010.8 C2668,1028 2685,1045 2699.3,1057.3 C2700,1090 2700,1130 2700.9,1153.5 C2690,1156 2682,1158 2673.7,1160" fill="none" stroke="#f5a62f" stroke-width="20" stroke-linecap="round" stroke-linejoin="round"/>
<path d="M2651.2,1010.8 C2668,1028 2685,1045 2699.3,1057.3 C2700,1090 2700,1130 2700.9,1153.5 C2690,1156 2682,1158 2673.7,1160" fill="none" stroke="#fbc04a" stroke-width="7" stroke-linecap="round" stroke-linejoin="round" opacity="0.6"/>
<circle cx="2521.4" cy="1060.5" r="14" fill="#f5a62f"/>
<circle cx="2699.3" cy="1057.3" r="14" fill="#f5a62f"/>
<circle cx="2566.3" cy="1018.9" r="14" fill="#f5a62f"/>
<circle cx="2651.2" cy="1010.8" r="14" fill="#f5a62f"/>
<path d="M2512,1095 L2512,1157 M2532,1095 L2531,1156 M2689,1080 L2691,1141 M2710,1080 L2711,1141" stroke="#163f66" stroke-width="2.2"/>
<path d="M2624,1119.9 L2668.9,1174.4 L2644.8,1174.4 L2636.8,1250 L2623,1369 L2611,1250 L2602.3,1174.4 L2579,1174.4 Z" fill="#8ab7e7" stroke="#ffffff" stroke-width="4"/>
<path d="M2308.6,2111.4 C2435.7,1929.3 2759.3,1929.3 2886.4,2112.8 C2741.9,2286.6 2453.1,2286.6 2308.6,2111.4 Z" fill="url(#gMuscleDark)"/>
<path d="M2308.6,2111.4 C2424.2,1968.0 2770.8,1968.0 2886.4,2112.8 C2770.8,2005.3 2424.2,2005.3 2308.6,2111.4 Z" fill="#f29a6f"/>
<path d="M2308.6,2111.4 C2424.2,2072.0 2770.8,2072.0 2886.4,2112.8 C2770.8,2157.3 2424.2,2157.3 2308.6,2111.4 Z" fill="#f29a6f"/>
<path d="M2308.6,2111.4 C2424.2,2210.6 2770.8,2210.6 2886.4,2112.8 C2770.8,2248.0 2424.2,2248.0 2308.6,2111.4 Z" fill="#f0946b"/>
<path d="M2608,1380 C2600,1350 2585,1320 2544,1300" fill="none" stroke="#89b5e6" stroke-width="10" stroke-linecap="round"/>
<path d="M2590,1345 C2575,1342 2560,1343 2544,1347" fill="none" stroke="#89b5e6" stroke-width="10" stroke-linecap="round"/>
<path d="M2560,1400 C2540,1385 2528,1365 2524.7,1333" fill="none" stroke="#89b5e6" stroke-width="10" stroke-linecap="round"/>
<path d="M2530,1369 C2510,1372 2490,1368 2472,1355" fill="none" stroke="#89b5e6" stroke-width="10" stroke-linecap="round"/>
<path d="M2555,1420 C2530,1413 2494,1414 2450,1426" fill="none" stroke="#89b5e6" stroke-width="10" stroke-linecap="round"/>
<path d="M2511,1421 C2498,1432 2490,1448 2488.6,1463.6" fill="none" stroke="#89b5e6" stroke-width="10" stroke-linecap="round"/>
<path d="M2511,1434 C2522,1440 2532,1450 2536,1463.6" fill="none" stroke="#89b5e6" stroke-width="10" stroke-linecap="round"/>
<path d="M2570,1465 C2560,1480 2550,1488 2538.6,1491 C2525,1495 2510,1495 2497,1494" fill="none" stroke="#89b5e6" stroke-width="10" stroke-linecap="round"/>
<path d="M2538.6,1492 C2530,1505 2523,1525 2519,1544" fill="none" stroke="#89b5e6" stroke-width="10" stroke-linecap="round"/>
<path d="M2630,1375 C2640,1365 2660,1358 2670,1358 C2685,1358 2697,1362 2705,1366.5" fill="none" stroke="#89b5e6" stroke-width="10" stroke-linecap="round"/>
<path d="M2652,1380 C2665,1382 2678,1388 2683,1394" fill="none" stroke="#89b5e6" stroke-width="10" stroke-linecap="round"/>
<path d="M2650,1440 C2670,1440 2690,1435 2700,1428 C2710,1422 2715,1418 2719,1413.7" fill="none" stroke="#89b5e6" stroke-width="10" stroke-linecap="round"/>
<path d="M2688,1436 C2705,1452 2720,1462 2738,1466" fill="none" stroke="#89b5e6" stroke-width="10" stroke-linecap="round"/>
<path d="M2635,1466 C2645,1478 2652,1486 2660.6,1488.6 C2675,1495 2690,1499 2699.5,1499.7" fill="none" stroke="#89b5e6" stroke-width="10" stroke-linecap="round"/>
<path d="M2660.6,1488.6 C2668,1482 2675,1474 2680,1466" fill="none" stroke="#89b5e6" stroke-width="10" stroke-linecap="round"/>
<path d="M2658,1499.7 C2660,1520 2666,1540 2674.5,1552" fill="none" stroke="#89b5e6" stroke-width="10" stroke-linecap="round"/>
<path d="M2560,1395 C2570,1378 2590,1372 2610,1370 C2635,1370 2652,1385 2657,1410 C2662,1440 2650,1462 2630,1470 C2615,1476 2610,1480 2606,1500 L2592,1500 C2590,1482 2580,1475 2568,1468 C2550,1455 2545,1420 2560,1395 Z" fill="#89b5e6"/>
<circle cx="2593.5" cy="1440.8" r="21" fill="#7d7bee"/>
<path d="M2600,1490 C2602,1530 2620,1570 2624,1600 C2628,1630 2608,1650 2606,1670 C2604,1700 2606,1720 2608,1741 C2612,1770 2624,1790 2624,1812 C2624,1840 2605,1860 2601,1880 C2599,1895 2599,1905 2599,1912 L2599,2010" fill="none" stroke="#89b5e6" stroke-width="10"/>
<g transform="rotate(-8 2601 1529)"><rect x="2582.5" y="1497" width="37" height="64" rx="17" fill="url(#gMyelin)"/><ellipse cx="2589" cy="1534" rx="8" ry="12" fill="#f9cfbf"/></g>
<g transform="rotate(0 2624 1599)"><rect x="2605.5" y="1567" width="37" height="64" rx="17" fill="url(#gMyelin)"/><ellipse cx="2624" cy="1599" rx="8" ry="12" fill="#f9cfbf"/></g>
<g transform="rotate(15 2606.5 1669.5)"><rect x="2588.0" y="1637.5" width="37" height="64" rx="17" fill="url(#gMyelin)"/><ellipse cx="2615.5" cy="1674.5" rx="8" ry="12" fill="#f9cfbf"/></g>
<g transform="rotate(-18 2608 1741)"><rect x="2589.5" y="1709" width="37" height="64" rx="17" fill="url(#gMyelin)"/><ellipse cx="2605" cy="1741" rx="8" ry="12" fill="#f9cfbf"/></g>
<g transform="rotate(0 2624.5 1812)"><rect x="2606.0" y="1780" width="37" height="64" rx="17" fill="url(#gMyelin)"/><ellipse cx="2613.5" cy="1809" rx="8" ry="12" fill="#f9cfbf"/></g>
<g transform="rotate(5 2601 1880.5)"><rect x="2582.5" y="1848.5" width="37" height="64" rx="17" fill="url(#gMyelin)"/><ellipse cx="2609" cy="1884.5" rx="8" ry="12" fill="#f9cfbf"/></g>
<path d="M2599,1912 C2590,1935 2560,1945 2540,1955 C2528,1962 2525,1972 2524.6,1985 M2599,1912 C2608,1935 2640,1945 2660,1955 C2672,1962 2674,1972 2673.7,1985" fill="none" stroke="#89b5e6" stroke-width="10" stroke-linecap="round"/>
<ellipse cx="2524.6" cy="1988" rx="15" ry="12" fill="#89b5e6"/>
<ellipse cx="2673.7" cy="1988" rx="15" ry="12" fill="#89b5e6"/>
<ellipse cx="2597" cy="2016" rx="15" ry="12" fill="#89b5e6"/>
<circle cx="2690.6" cy="1295.2" r="5" fill="#c696c6"/>
<circle cx="2661.3" cy="1323" r="5" fill="#c696c6"/>
<circle cx="2701.7" cy="1330.6" r="5" fill="#c696c6"/>
<circle cx="2623.7" cy="1369" r="5" fill="#c696c6"/>
<circle cx="2772.8" cy="1358" r="5" fill="#c696c6"/>
<circle cx="2757.5" cy="1406.7" r="5" fill="#c696c6"/>
<circle cx="2763" cy="1436" r="5" fill="#c696c6"/>
<circle cx="2519" cy="1595" r="5" fill="#c696c6"/>
<circle cx="2671.7" cy="1616" r="5" fill="#c696c6"/>
<circle cx="2656.5" cy="1649.5" r="5" fill="#c696c6"/>
<circle cx="2641" cy="1890" r="5" fill="#c696c6"/>
<circle cx="2654" cy="1919.5" r="5" fill="#c696c6"/>
<circle cx="2517" cy="1919.5" r="5" fill="#c696c6"/>
<path d="M1824,1482.5 L1878,1442.5 L1878.0,1465.5 L2431,1482.5 L1878.0,1501.6 L1878,1524.6 Z" fill="#87b5e8" stroke="#ffffff" stroke-width="4" stroke-linejoin="miter"/>
<path d="M1971,1664 L2006,1612.6 L2013.7,1633.9 L2431,1504.6 L2023.9,1662.4 L2031.6,1683.7 Z" fill="#87b5e8" stroke="#ffffff" stroke-width="4" stroke-linejoin="miter"/>
<path d="M2154.5,1761.4 L2170,1702 L2184.1,1718.5 L2435,1526.6 L2202.9,1740.5 L2217,1757 Z" fill="#87b5e8" stroke="#ffffff" stroke-width="4" stroke-linejoin="miter"/>
<line x1="2906.6" y1="704.4" x2="2606.7" y2="867.5" stroke="#ffffff" stroke-width="6" opacity="0.6"/>
<line x1="2906.6" y1="704.4" x2="2606.7" y2="867.5" stroke="#1c4568" stroke-width="2.8"/>
<circle cx="2906.6" cy="704.4" r="6.8" fill="#1b4a72"/>
<line x1="2906.6" y1="749.8" x2="2707.3" y2="860.3" stroke="#ffffff" stroke-width="6" opacity="0.6"/>
<line x1="2906.6" y1="749.8" x2="2707.3" y2="860.3" stroke="#1c4568" stroke-width="2.8"/>
<circle cx="2906.6" cy="749.8" r="6.8" fill="#1b4a72"/>
<line x1="2906.6" y1="806.4" x2="2716.9" y2="910.6" stroke="#ffffff" stroke-width="6" opacity="0.6"/>
<line x1="2906.6" y1="806.4" x2="2716.9" y2="910.6" stroke="#1c4568" stroke-width="2.8"/>
<circle cx="2906.6" cy="806.4" r="6.8" fill="#1b4a72"/>
<line x1="2906.6" y1="936.2" x2="2697.7" y2="1052" stroke="#ffffff" stroke-width="6" opacity="0.6"/>
<line x1="2906.6" y1="936.2" x2="2697.7" y2="1052" stroke="#1c4568" stroke-width="2.8"/>
<circle cx="2906.6" cy="936.2" r="6.8" fill="#1b4a72"/>
<line x1="2905.8" y1="1220" x2="2701.7" y2="1330.6" stroke="#ffffff" stroke-width="6" opacity="0.6"/>
<line x1="2905.8" y1="1220" x2="2701.7" y2="1330.6" stroke="#1c4568" stroke-width="2.8"/>
<circle cx="2905.8" cy="1220" r="6.8" fill="#1b4a72"/>
<line x1="2905.8" y1="1295.2" x2="2632" y2="1448.5" stroke="#ffffff" stroke-width="6" opacity="0.6"/>
<line x1="2905.8" y1="1295.2" x2="2632" y2="1448.5" stroke="#1c4568" stroke-width="2.8"/>
<circle cx="2905.8" cy="1295.2" r="6.8" fill="#1b4a72"/>
<circle cx="214.5" cy="1119.3" r="9.3" fill="#3d3e3e"/><circle cx="214.5" cy="1193.6" r="9.3" fill="#3d3e3e"/><circle cx="214.5" cy="1267.9" r="9.3" fill="#3d3e3e"/><circle cx="214.5" cy="1342.2" r="9.3" fill="#3d3e3e"/><circle cx="214.5" cy="1416.5" r="9.3" fill="#3d3e3e"/><circle cx="214.5" cy="1490.8" r="9.3" fill="#3d3e3e"/><circle cx="214.5" cy="1639.4" r="9.3" fill="#3d3e3e"/><circle cx="217" cy="1832.4" r="9.3" fill="#3d3e3e"/><circle cx="217" cy="1906.7" r="9.3" fill="#3d3e3e"/><circle cx="217" cy="1981.0" r="9.3" fill="#3d3e3e"/><circle cx="217" cy="2129.6" r="9.3" fill="#3d3e3e"/>
<text transform="translate(651.38 313) scale(1.0953 1)" font-size="251.5" fill="#89b8e8">ПОЛИОМИЕЛИТ</text><text transform="translate(652.88 446) scale(1.0207 1)" font-size="95" letter-spacing="11" fill="#414242">Инфекционное</text><text transform="translate(1538.95 446) scale(1.0078 1)" font-size="95" letter-spacing="11" fill="#414242">вирусное</text><text transform="translate(2103.98 446) scale(1.0071 1)" font-size="95" letter-spacing="11" fill="#414242">заболевание</text><text transform="translate(194.61 623) scale(1.0986 1)" font-size="62.5" fill="#3d3e3e">Полиовирус разрушает</text><text transform="translate(194.53 697.7) scale(1.1166 1)" font-size="62.5" fill="#3d3e3e">нервные клетки</text><text transform="translate(194.62 771.6) scale(1.0947 1)" font-size="62.5" fill="#3d3e3e">в спинном мозге</text><text transform="translate(1390.17 621.5) scale(1.1084 1)" font-size="62.5" fill="#3d3e3e">Приводит</text><text transform="translate(1390.15 695.6) scale(1.1128 1)" font-size="62.5" fill="#3d3e3e">к мышечной</text><text transform="translate(1391.00 769.7) scale(1.0848 1)" font-size="62.5" fill="#3d3e3e">дистрофии и параличу</text><text transform="translate(192.67 942) scale(1.1115 1)" font-size="91" fill="#86b6e8">Формы и симптомы</text><text transform="translate(193.51 1051) scale(1.1221 1)" font-size="62" fill="#e96a40">Непаралитический полиомиелит</text><text transform="translate(265.00 1138.3) scale(1.0961 1)" font-size="62.5" fill="#3d3e3e">Лихорадка</text><text transform="translate(265.25 1212.6) scale(1.0613 1)" font-size="62.5" fill="#3d3e3e">Боль в горле</text><text transform="translate(265.32 1286.9) scale(1.0448 1)" font-size="62.5" fill="#3d3e3e">Головная боль</text><text transform="translate(264.84 1361.2) scale(1.0393 1)" font-size="62.5" fill="#3d3e3e">Рвота</text><text transform="translate(263.86 1435.5) scale(1.0476 1)" font-size="62.5" fill="#3d3e3e">Слабость</text><text transform="translate(265.16 1509.8) scale(1.0843 1)" font-size="62.5" fill="#3d3e3e">Боль и скованность в спине и шее,</text><text transform="translate(263.58 1584.1) scale(1.1044 1)" font-size="62.5" fill="#3d3e3e">конечностях</text><text transform="translate(265.19 1658.4) scale(1.0764 1)" font-size="62.5" fill="#3d3e3e">Болезненность и слабость мышц</text><text transform="translate(194.53 1755.8) scale(1.1182 1)" font-size="62" fill="#e96a40">Паралитический полиомиелит</text><text transform="translate(265.64 1851.4) scale(1.0890 1)" font-size="62.5" fill="#3d3e3e">Потеря рефлексов</text><text transform="translate(265.63 1925.7) scale(1.0926 1)" font-size="62.5" fill="#3d3e3e">Выраженные мышечные боли</text><text transform="translate(265.60 2000) scale(1.0992 1)" font-size="62.5" fill="#3d3e3e">Выраженная мышечная</text><text transform="translate(265.89 2074.3) scale(1.0563 1)" font-size="62.5" fill="#3d3e3e">слабость</text><text transform="translate(266.94 2148.6) scale(1.0628 1)" font-size="62.5" fill="#3d3e3e">Дряблость, вялость</text><text transform="translate(265.63 2222.9) scale(1.0936 1)" font-size="62.5" fill="#3d3e3e">конечностей (вялый паралич)</text><text transform="translate(554.33 2335) scale(1.0937 1)" font-size="62.5" fill="#e96a40">Вакцинация - самая эффективная мера профилактики полиомиелита!</text><text transform="translate(2935.34 691) scale(1.1532 1)" font-size="40" fill="#3d3e3e">РНК</text><text transform="translate(2936.56 746.5) scale(1.1193 1)" font-size="40" fill="#3d3e3e">Оболочка вируса</text><text transform="translate(2935.40 805.3) scale(1.1326 1)" font-size="40" fill="#3d3e3e">Полиовирус</text><text transform="translate(2935.38 929.6) scale(1.1411 1)" font-size="40" fill="#3d3e3e">Клеточный</text><text transform="translate(2935.31 976.2) scale(1.1646 1)" font-size="40" fill="#3d3e3e">рецептор</text><text transform="translate(2935.31 1212.4) scale(1.1310 1)" font-size="40" fill="#3d3e3e">Полиовирус</text><text transform="translate(2935.26 1296) scale(1.1470 1)" font-size="40" fill="#3d3e3e">Нервная</text><text transform="translate(2935.18 1342.6) scale(1.1722 1)" font-size="40" fill="#3d3e3e">клетка</text><text transform="translate(2136.31 1240) scale(1.1435 1)" font-size="40" fill="#3d3e3e">Спинной</text><text transform="translate(2137.06 1286) scale(1.1788 1)" font-size="40" fill="#3d3e3e">мозг</text><text transform="translate(2137.24 1410.4) scale(1.1186 1)" font-size="40" fill="#3d3e3e">Нервы</text>
</svg></body></html>
